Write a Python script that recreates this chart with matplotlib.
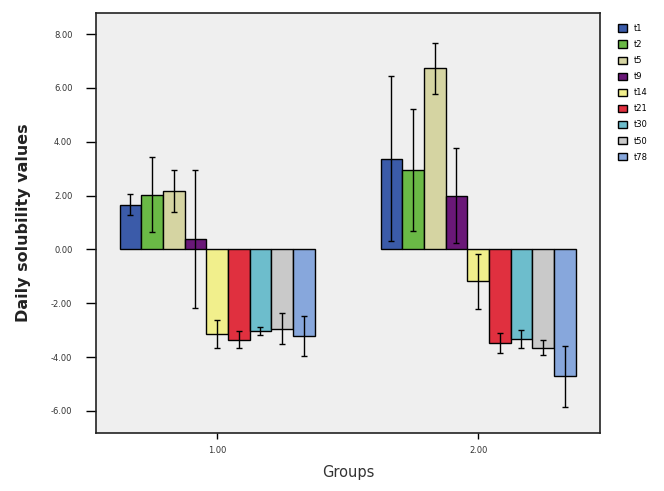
import numpy as np
import matplotlib
matplotlib.use('Agg')
import matplotlib.pyplot as plt

groups = [1.0, 2.0]
series = ['t1', 't2', 't5', 't9', 't14', 't21', 't30', 't50', 't78']
colors = ['#3b5ba9', '#6ab946', '#d5d4a2', '#6a1878', '#f1ef8c',
          '#e0303f', '#6dbdcc', '#c9c9c9', '#87a7dc']

# means per series, one value per group
g1_means = [1.66, 2.03, 2.18, 0.38, -3.13, -3.35, -3.04, -2.94, -3.23]
g2_means = [3.37, 2.94, 6.72, 2.00, -1.19, -3.47, -3.32, -3.65, -4.72]
# error bar half-lengths
g1_err = [0.38, 1.40, 0.78, 2.57, 0.52, 0.31, 0.14, 0.56, 0.74]
g2_err = [3.06, 2.27, 0.96, 1.78, 1.03, 0.38, 0.34, 0.28, 1.15]

fig = plt.figure(figsize=(6.64, 4.91), dpi=100)
ax = fig.add_axes([0.1446, 0.1181, 0.759, 0.8554])
ax.set_facecolor('#efefef')

width = 0.083
n = len(series)
for i, name in enumerate(series):
    xs = np.array(groups) + (i - (n - 1) / 2) * width
    vals = [g1_means[i], g2_means[i]]
    errs = [g1_err[i], g2_err[i]]
    ax.bar(xs, vals, width=width, color=colors[i], edgecolor='black',
           linewidth=1.0, label=name, zorder=2)
    ax.errorbar(xs, vals, yerr=errs, fmt='none', ecolor='black',
                elinewidth=1.0, capsize=2.5, capthick=1.0, zorder=3)

ax.set_xlim(0.536, 2.467)
ax.set_ylim(-6.82, 8.78)
ax.set_xticks(groups)
ax.set_xticklabels(['1.00', '2.00'])
ax.set_yticks(np.arange(-6, 9, 2))
ax.set_yticklabels(['%.2f' % v for v in np.arange(-6, 9, 2)])
ax.tick_params(axis='both', direction='out', width=1,
               labelsize=6, labelcolor='#333333')
ax.tick_params(axis='x', length=4.5, pad=5)
ax.tick_params(axis='y', length=7.5, pad=9.5)
for sp in ax.spines.values():
    sp.set_linewidth(1.2)
    sp.set_color('#222222')

ax.set_ylabel('Daily solubility values', fontsize=11.5, fontweight='bold',
              labelpad=14, color='#222222')
ax.set_xlabel('Groups', fontsize=10.5, color='#333333', labelpad=7)

fig.legend(loc='upper left', bbox_to_anchor=(0.925, 0.958), frameon=False,
           fontsize=6, handlelength=1.1, handleheight=1.0, handletextpad=0.9,
           labelspacing=0.85, borderaxespad=0)

fig.savefig('out.png', dpi=100)
